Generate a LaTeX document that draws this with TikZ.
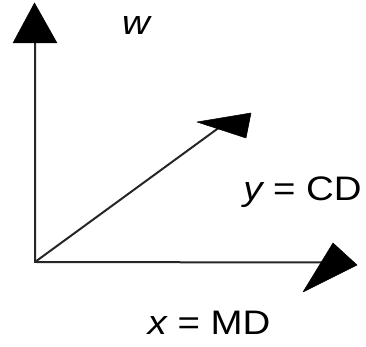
\documentclass[tikz,border=0pt]{standalone}
\usepackage{fontspec}
\setmainfont{Liberation Sans}
\begin{document}
\begin{tikzpicture}[x=1pt,y=1pt,
  axis/.style={line width=2pt,draw=black!85},
  head/.style={fill=black,draw=black,line width=0.5pt,line join=round},
  lbl/.style={font=\fontsize{34}{38}\selectfont,inner sep=0pt,xscale=1.13}]
\useasboundingbox (0,0) rectangle (366,347);
\coordinate (O) at (35,85);
\coordinate (Wend) at (35,310);
\coordinate (Xend) at (322,84.5);
\coordinate (Yend) at (224,223);
\coordinate (Wt) at (34.5,344);
\coordinate (Wl) at (13,304);
\coordinate (Wr) at (57,304);
\coordinate (Xt) at (357,82);
\coordinate (Xa) at (333,104);
\coordinate (Xb) at (303,55);
\coordinate (Yt) at (251,234);
\coordinate (Ya) at (197,225);
\coordinate (Yb) at (246,209);
\draw[axis,line cap=rect] (Wend) -- (O) -- (Xend);
\draw[axis] (O) -- (Yend);
\fill[head] (Wt) -- (Wl) -- (Wr) -- cycle;
\fill[head] (Xt) -- (Xa) -- (Xb) -- cycle;
\fill[head] (Yt) -- (Ya) -- (Yb) -- cycle;
\node[lbl] (w) at (136,321) {\itshape w};
\node[lbl] (y) at (302.5,155) {\itshape y\upshape{} = CD};
\node[lbl] (x) at (209,24.5) {\itshape x\upshape{} = MD};
\end{tikzpicture}
\end{document}
